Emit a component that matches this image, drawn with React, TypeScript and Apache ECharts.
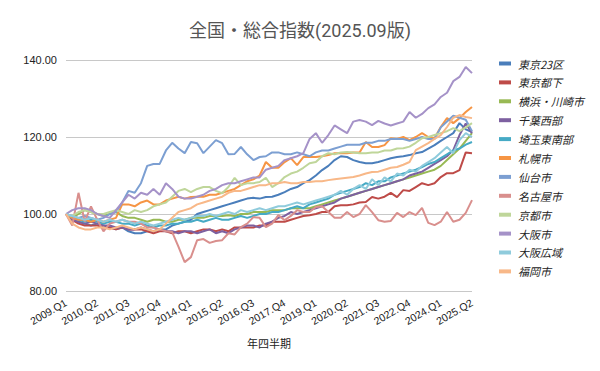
import React, { useEffect, useRef } from "react";
import * as echarts from "echarts";

const years = Array.from({ length: 17 }, (_, k) => 2009 + k);
const categories: string[] = [];
for (const y of years) {
  for (let q = 1; q <= 4; q++) {
    if (y === 2025 && q > 2) break;
    categories.push(`${y}.Q${q}`);
  }
}

const seriesNames = ["東京23区", "東京都下", "横浜・川崎市", "千葉西部", "埼玉東南部", "札幌市", "仙台市", "名古屋市", "京都市", "大阪市", "大阪広域", "福岡市"];

const tokyo23 = [100, 98.5, 98, 97.5, 97, 97.5, 97, 96.5, 96, 96.5, 95.5, 95, 95, 95.5, 95.5, 96, 96, 97, 97.5, 98, 98.5, 100, 100.5, 101, 101.5, 102, 102.5, 103, 103.5, 104, 104.2, 104, 104.4, 104.5, 105, 105.7, 106.5, 107, 108, 108.8, 110, 111.4, 112.5, 114, 115, 114.8, 114, 113.5, 113.2, 113.2, 113.5, 114, 114.5, 114.8, 115, 115.3, 115.8, 116.1, 117, 117.9, 119, 120, 121, 123.6, 122, 121.3];
const tokyoTama = [100, 98.5, 97.5, 97, 97, 97, 96.5, 96.5, 96, 96.5, 96, 96, 96, 95.5, 95, 95.5, 95.5, 95, 95.5, 95.5, 95, 95.5, 96, 96, 95.5, 96, 95.5, 96.5, 96.5, 96.5, 96.5, 97, 97, 98, 98, 98, 98.5, 99, 99.5, 99.7, 100, 100.5, 100.5, 102, 102.3, 102.3, 102.5, 103, 103.1, 104.4, 104, 104.5, 105.5, 104.4, 106.2, 106, 107, 108, 107.5, 108, 109.6, 110.6, 110.6, 111.4, 116, 115.8];
const yokohama = [100, 99, 100, 101, 100.5, 100, 99.5, 100, 100.5, 99.5, 99, 99, 98.5, 98, 98.5, 98.5, 98, 98, 98.5, 98.5, 99, 99, 99, 99.5, 99.5, 99.5, 99.7, 99.5, 100, 100, 100.5, 100.5, 100.5, 101, 101, 101, 101.5, 101.5, 101.5, 101.5, 102, 102.5, 103, 103.5, 104, 104.5, 105, 105.5, 106, 106.5, 107, 107.5, 108, 108.5, 109, 109.5, 110, 110.5, 111, 111.5, 112.5, 114, 115.5, 117, 119, 121];
const chibaWest = [100, 98.5, 98, 97.5, 98, 97.5, 97, 97, 96.5, 96.5, 96, 96, 96.5, 96, 95.5, 96, 95.5, 95.5, 95, 95.5, 95.5, 95, 95.5, 96, 95, 95.5, 95, 96, 96.5, 97, 97, 96.5, 97.5, 98, 99, 99.5, 100.5, 100, 100.5, 101, 101.5, 102, 102.5, 103, 104, 104.5, 105, 105.5, 106, 106.5, 107, 107.5, 108, 108.5, 109, 110, 110.5, 111, 112, 113, 114, 115, 116.6, 120.5, 123.5, 121];
const saitamaSE = [100, 99, 98.5, 98, 98.5, 98, 97.5, 98, 98, 97.5, 97.5, 97, 97.5, 97, 96.5, 97, 97, 97.5, 97.5, 98, 98, 98.5, 98, 98.5, 99, 98.5, 98.5, 99, 99.5, 99, 99.5, 100, 100, 100.5, 100.5, 101, 101.5, 102, 101.5, 102.5, 103, 103.5, 104, 105, 105.5, 106, 106.5, 107, 108, 107.5, 108.5, 108.5, 109.5, 110, 110.5, 111, 111.5, 112.2, 113, 113.5, 114.5, 115.5, 116.5, 117, 118, 118.7];
const sapporo = [100, 99, 98.5, 98.5, 98, 98.5, 98, 98.5, 99, 102.5, 102.5, 102, 103, 103.5, 102.5, 102.5, 103.5, 104, 104.5, 104, 104.4, 104.5, 104.5, 105, 105, 105.5, 106, 106.5, 107.5, 108.5, 109, 110, 113.5, 112, 112, 113.5, 114.5, 112.7, 114.8, 114.8, 114.8, 115, 115.3, 115.8, 115.8, 115.8, 116, 116, 118.7, 117.4, 117.4, 117.9, 119.7, 119.5, 120, 119.2, 120, 121, 120, 119.7, 122.6, 124.9, 123.6, 124.9, 126.5, 127.8];
const sendai = [100, 99.5, 99, 99.5, 99, 98.5, 99, 100, 100.5, 103, 106, 105.5, 108, 112.5, 113, 113, 116.5, 118.5, 117, 115.8, 118.7, 118.4, 115.8, 117.5, 119.2, 118.4, 115.5, 115.6, 117.4, 115.5, 114, 114.8, 115, 116, 116, 115.5, 115.5, 116, 115.5, 115, 116, 116.5, 116.5, 117, 117.5, 118, 118, 118, 118.5, 118.5, 119, 119, 119.5, 119.5, 119.5, 119, 119.5, 120, 119.5, 119.5, 122.5, 124, 125.5, 125, 124.5, 121.5];
const nagoya = [100, 97, 105.5, 98, 102, 98.5, 95.5, 97.5, 98, 98.5, 98, 98, 97.5, 96.5, 96.5, 96, 95.5, 95.3, 91.5, 87.5, 88.8, 93.2, 93.5, 92.5, 93, 93.2, 95, 94.7, 96.6, 97.5, 99.2, 99, 96.6, 97.5, 99.7, 98.4, 99.5, 101, 100.5, 100.5, 101.8, 102, 100.5, 99, 99, 100.5, 99.2, 100, 102.3, 100.5, 98.4, 98, 98.2, 100.3, 99.2, 100.5, 99.7, 101.6, 97.7, 97.1, 98, 100.5, 98, 98.5, 100.3, 103.6];
const kyoto = [100, 99.5, 100.5, 101, 100.5, 100, 100, 100.5, 101, 100.5, 100, 101, 100.5, 101, 102, 102.5, 103, 104.5, 106, 106.5, 105.7, 106.5, 107, 107, 106, 105.4, 107, 109.4, 107.5, 108, 108, 108.3, 109.4, 107, 108, 109.6, 110.5, 111, 112, 113.2, 113.5, 115, 115.8, 115.5, 116, 116.1, 116, 115.8, 115.8, 116, 116, 116.5, 116.5, 117, 117.1, 117.5, 118.5, 119.7, 120, 120.5, 121, 121.5, 122.3, 121.5, 122.5, 123.6];
const osakaCity = [100, 101, 101.5, 101.5, 101, 100, 99.5, 99, 101, 103, 105, 104, 105.5, 105, 106.5, 105, 108, 106.5, 104.5, 104, 104, 104.5, 105, 106, 106.5, 107.5, 108, 108, 108.5, 109, 109.5, 109.5, 111.5, 112, 112.5, 114, 114.5, 115, 115.8, 119.5, 121, 118.5, 120.5, 123, 122, 121, 124, 124.4, 124, 123.1, 124.2, 123.5, 123, 123.5, 124, 126.5, 125, 126, 127.5, 128.5, 130.4, 131.5, 134.5, 135.6, 138.2, 136.6];
const osakaWide = [100, 99.5, 99, 98.5, 99, 98.5, 98, 98.5, 98, 98.5, 98, 97.5, 98, 97.5, 97, 97.5, 98, 98.5, 99, 98.5, 99, 99.5, 99.5, 100, 99.5, 100, 100.5, 100, 101, 100.5, 101, 101.5, 101, 101.5, 102, 102, 102.5, 103, 102.5, 103, 103.5, 104, 104.5, 105, 106, 105, 106.5, 107.5, 106.5, 109, 107.5, 109.5, 108.5, 110.5, 110, 111.5, 111, 112.5, 113.5, 114.5, 116, 117.4, 115.8, 119.2, 121, 120];
const fukuoka = [100, 97.5, 96.5, 96, 96, 96.5, 96.5, 96, 96.5, 97, 96.5, 96, 96.5, 96, 95.5, 96, 97.5, 99, 100.5, 101, 101.5, 102.5, 103, 103.5, 104, 104.5, 105.5, 106, 106, 106.5, 107, 107.5, 107.5, 108, 108, 108.3, 108, 108, 108.3, 108.3, 108.5, 108.5, 108.8, 109, 109.2, 109.4, 109.6, 110, 110.5, 110.9, 111, 111.5, 112, 112.2, 112.8, 113.5, 116.6, 117.5, 118.4, 119.5, 120.5, 122.6, 125, 125.7, 125.2, 124.9];

const seriesData = [tokyo23, tokyoTama, yokohama, chibaWest, saitamaSE, sapporo, sendai, nagoya, kyoto, osakaCity, osakaWide, fukuoka];
const colors = ["#4a7ebb", "#be4b48", "#98b954", "#7d60a0", "#46aac5", "#f69544", "#7c9fd2", "#d98f8d", "#bfd69a", "#a592c8", "#8fcbdc", "#f8b888"];

const yTicks = { min: 80, max: 140, interval: 20 };

export default function App() {
  const ref = useRef<HTMLDivElement>(null);
  useEffect(() => {
    if (!ref.current) return;
    const chart = echarts.init(ref.current, undefined, { renderer: "svg" });
    chart.setOption({
      animation: false,
      backgroundColor: "#ffffff",
      color: colors,
      title: {
        text: "全国・総合指数(2025.09版)",
        left: "center",
        top: 16,
        textStyle: { fontSize: 18, fontWeight: "normal", color: "#555555", fontFamily: "Roboto, 'Noto Sans CJK JP', sans-serif" },
      },
      legend: {
        orient: "vertical",
        left: 494,
        top: 53,
        itemWidth: 12,
        itemHeight: 4,
        itemGap: 7.9,
        icon: "rect",
        data: seriesNames,
        textStyle: { fontSize: 11, color: "#222222", fontStyle: "italic", fontFamily: "'Noto Sans CJK JP', sans-serif", padding: [0, 0, 0, 2] },
      },
      grid: { left: 66, right: 128, top: 60, bottom: 80, containLabel: false },
      xAxis: {
        type: "category",
        data: categories,
        boundaryGap: false,
        name: "年四半期",
        nameLocation: "middle",
        nameGap: 46,
        nameTextStyle: { fontSize: 11, color: "#222222", fontFamily: "'Noto Sans CJK JP', sans-serif" },
        axisLine: { show: false },
        axisTick: { show: false },
        axisLabel: { interval: 4, rotate: 30, fontSize: 10.5, color: "#222222", margin: 11, fontFamily: "'Liberation Sans', Arial, sans-serif" },
        splitLine: { show: false },
      },
      yAxis: {
        type: "value",
        min: yTicks.min,
        max: yTicks.max,
        interval: yTicks.interval,
        axisLine: { show: false },
        axisTick: { show: false },
        axisLabel: { formatter: (v: number) => v.toFixed(2), fontSize: 11, color: "#222222", margin: 9, fontFamily: "'Liberation Sans', Arial, sans-serif" },
        splitLine: { lineStyle: { color: "#c8c8c8", width: 1 } },
      },
      series: seriesNames.map((name, i) => ({
        name,
        type: "line",
        data: seriesData[i],
        showSymbol: false,
        symbol: "none",
        lineStyle: { width: 2 },
        emphasis: { disabled: true },
      })),
    });
    return () => chart.dispose();
  }, []);
  return <div ref={ref} style={{ width: 600, height: 371, margin: -8 }} />;
}
